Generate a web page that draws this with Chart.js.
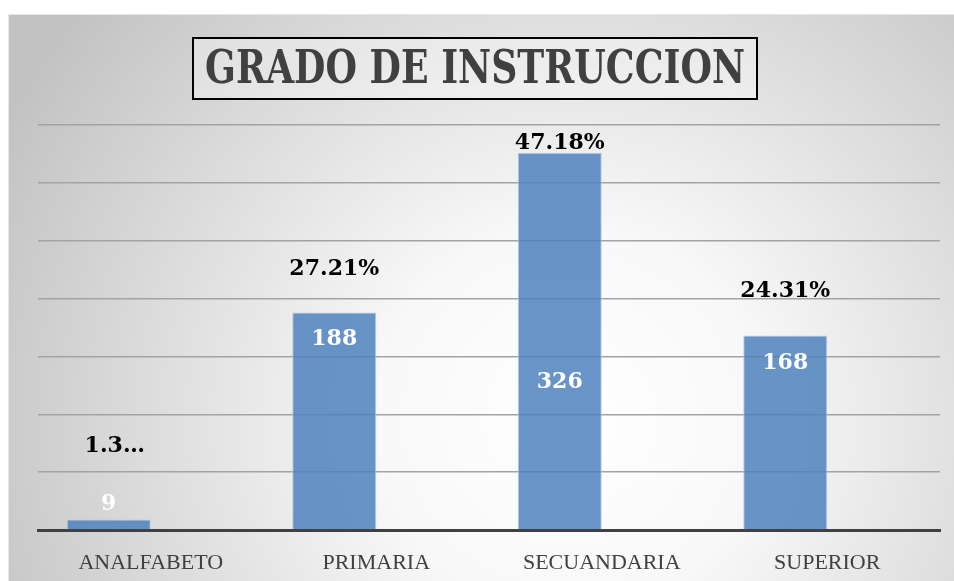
<!DOCTYPE html>
<html>
<head>
<meta charset="utf-8">
<script src="https://cdn.jsdelivr.net/npm/chart.js@4"></script>
<style>
  html, body { margin: 0; padding: 0; background: #ffffff; }
  #wrap { width: 954px; height: 581px; }
</style>
</head>
<body>
<div id="wrap"><canvas id="chart" width="954" height="581"></canvas></div>
<script>
// ---------- data ----------
const categories = ["ANALFABETO", "PRIMARIA", "SECUANDARIA", "SUPERIOR"];
const counts = [9, 188, 326, 168];
const percents = [1.30, 27.21, 47.18, 24.31];
const percentLabels = ["1.3\u2026", "27.21%", "47.18%", "24.31%"];
const yTicks = [0, 50, 100, 150, 200, 250, 300, 350];

const TITLE = "GRADO DE INSTRUCCION";

// background panel (excel style radial gradient)
const backgroundPlugin = {
    id: "panelBg",
    beforeDraw(chart) {
        const ctx = chart.ctx;
        ctx.save();
        ctx.fillStyle = "#ffffff";
        ctx.fillRect(0, 0, chart.width, chart.height);
        const g = ctx.createRadialGradient(570, 420, 0, 570, 420, 640);
        g.addColorStop(0, "#ffffff");
        g.addColorStop(0.3, "#f8f8f8");
        g.addColorStop(1, "#c2c2c2");
        ctx.fillStyle = g;
        ctx.fillRect(8, 14, chart.width - 8, chart.height - 14);
        ctx.strokeStyle = "#e6e6e6";
        ctx.lineWidth = 1;
        ctx.strokeRect(8.5, 14.5, chart.width, chart.height);
        ctx.restore();
    }
};

// title box + data labels
const labelPlugin = {
    id: "labels",
    afterDatasetsDraw(chart, args, opts) {
        const ctx = chart.ctx;
        const meta = chart.getDatasetMeta(0);
        ctx.save();

        // title in a box
        ctx.fillStyle = "rgba(255,255,255,0.35)";
        ctx.fillRect(193, 38, 564, 61);
        ctx.strokeStyle = "#000000";
        ctx.lineWidth = 2;
        ctx.strokeRect(193, 38, 564, 61);
        ctx.font = "bold 47px 'DejaVu Serif'";
        ctx.fillStyle = "#404040";
        ctx.textAlign = "left";
        ctx.textBaseline = "alphabetic";
        const w = ctx.measureText(TITLE).width;
        const sx = 540 / w;
        ctx.save();
        ctx.translate(205, 83);
        ctx.scale(sx, 1);
        ctx.fillText(TITLE, 0, 0);
        ctx.restore();

        ctx.textAlign = "center";
        ctx.textBaseline = "middle";
        meta.data.forEach((bar, i) => {
            // count labels (white)
            ctx.font = "bold 22px 'DejaVu Serif'";
            ctx.fillStyle = "#ffffff";
            ctx.fillText(String(counts[i]), bar.x, bar.y + opts.countOffsets[i]);
            // percentage labels (black)
            ctx.fillStyle = "#000000";
            ctx.fillText(percentLabels[i], bar.x + (i === 0 ? 6 : 0), bar.y - opts.percentOffsets[i]);
        });
        ctx.restore();
    }
};

new Chart(document.getElementById("chart"), {
    type: "bar",
    data: {
        labels: categories,
        datasets: [
            {
                label: "Cantidad",
                data: counts,
                backgroundColor: "rgba(79,129,189,0.85)",
                borderColor: "#b7cbe6",
                borderWidth: 1
            },
            {
                label: "Porcentaje",
                data: percents,
                backgroundColor: "rgba(0,0,0,0)",
                borderWidth: 0
            }
        ]
    },
    options: {
        responsive: false,
        animation: false,
        events: [],
        layout: { padding: { top: 125, left: 38, right: 14, bottom: 0 } },
        categoryPercentage: 0.745,
        barPercentage: 1.0,
        plugins: {
            legend: { display: false },
            title: { display: false },
            tooltip: { enabled: false },
            labels: {
                countOffsets: [-15, 27, 230, 28],
                percentOffsets: [73, 43, 9, 44]
            }
        },
        scales: {
            x: {
                grid: { display: false },
                border: { display: true, color: "#404040", width: 3 },
                afterFit(axis) { axis.height = 51; },
                ticks: {
                    color: "#404040",
                    padding: 12,
                    font: { family: "'Liberation Serif'", size: 22 }
                }
            },
            y: {
                min: 0,
                max: 350,
                afterBuildTicks(axis) {
                    axis.ticks = yTicks.map(v => ({ value: v }));
                },
                ticks: { display: false },
                border: { display: false },
                grid: { color: "#a3a3a3", lineWidth: 1.5, drawTicks: false }
            }
        }
    },
    plugins: [backgroundPlugin, labelPlugin]
});
</script>
</body>
</html>
